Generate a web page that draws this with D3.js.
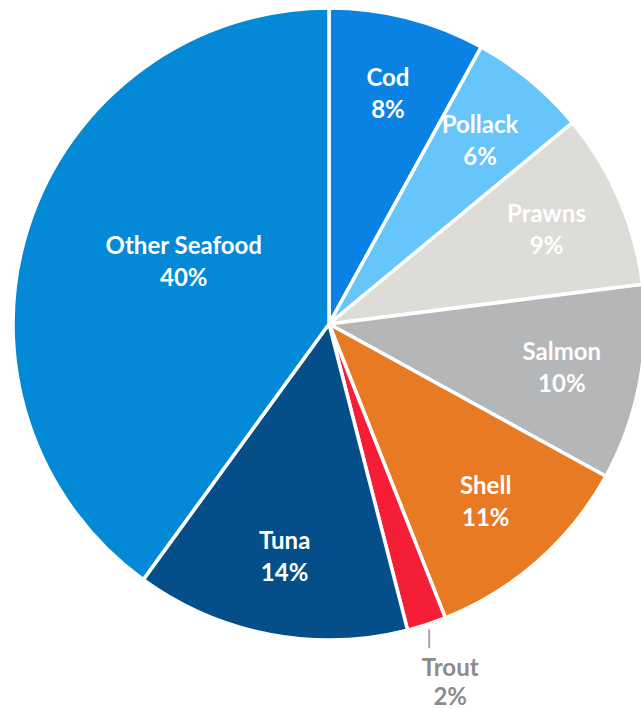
<!DOCTYPE html>
<html>
<head>
<meta charset="utf-8">
<script src="https://cdn.jsdelivr.net/npm/d3@7"></script>
<style>
  html, body { margin: 0; padding: 0; background: #ffffff; }
  svg { display: block; }
  text { font-family: Lato, "Open Sans", "DejaVu Sans", sans-serif; font-weight: 700; }
</style>
</head>
<body>
<svg id="chart" width="641" height="709"></svg>
<script>
// Share of seafood by species (percent)
const categories = ["Cod", "Pollack", "Prawns", "Salmon", "Shell", "Trout", "Tuna", "Other Seafood"];
const shares = [8, 6, 9, 10, 11, 2, 14, 40];
const colors = ["#0A82E4", "#66C5FB", "#DDDCD8", "#B5B6B8", "#E77A23", "#F41F36", "#044F89", "#0489D6"];
// Slices whose label sits outside the pie with a leader line
const outsideLabels = ["Trout"];

const width = 641, height = 709;
const cx = 329, cy = 324, radius = 316;
const fontSize = 24;

const svg = d3.select("#chart");
const g = svg.append("g").attr("transform", `translate(${cx},${cy})`);

const data = categories.map((c, i) => ({ name: c, value: shares[i], color: colors[i] }));

const pie = d3.pie().value(d => d.value).sort(null);
const arcs = pie(data);

const arc = d3.arc().innerRadius(0).outerRadius(radius);

g.selectAll("path.slice")
  .data(arcs)
  .enter().append("path")
  .attr("class", "slice")
  .attr("d", arc)
  .attr("fill", d => d.data.color)
  .attr("stroke", "#ffffff")
  .attr("stroke-width", 3.5)
  .attr("stroke-linejoin", "round");

const maxVal = d3.max(shares);
const labelArcSmall = d3.arc().innerRadius(radius * 0.75).outerRadius(radius * 0.75);
const labelArcLarge = d3.arc().innerRadius(radius * 0.5).outerRadius(radius * 0.5);

// Labels inside the slices
const inside = arcs.filter(d => !outsideLabels.includes(d.data.name));
const lbl = g.selectAll("g.lbl")
  .data(inside)
  .enter().append("g")
  .attr("class", "lbl")
  .attr("transform", d => {
    let c;
    if (d.data.value === maxVal) {
      // the largest slice keeps its label a little above the mid-angle
      const a = (d.startAngle + d.endAngle) / 2 + 0.09;
      c = labelArcLarge.centroid({ startAngle: a, endAngle: a });
    } else {
      c = labelArcSmall.centroid(d);
    }
    return `translate(${c[0]},${c[1]})`;
  });

lbl.append("text")
  .attr("text-anchor", "middle")
  .attr("y", -8)
  .attr("font-size", fontSize)
  .attr("fill", "#ffffff")
  .text(d => d.data.name);
lbl.append("text")
  .attr("text-anchor", "middle")
  .attr("y", 24)
  .attr("font-size", fontSize)
  .attr("fill", "#ffffff")
  .text(d => d.data.value + "%");

// Outside labels with a short vertical leader line
const outside = arcs.filter(d => outsideLabels.includes(d.data.name));
const outArcStart = d3.arc().innerRadius(radius + 5).outerRadius(radius + 5);
outside.forEach(d => {
  const p = outArcStart.centroid(d);
  const x0 = p[0] + 1, y0 = p[1];
  const y1 = y0 + 19;
  g.append("line")
    .attr("x1", x0).attr("y1", y0)
    .attr("x2", x0).attr("y2", y1)
    .attr("stroke", "#A6A6A6")
    .attr("stroke-width", 2);
  const tx = x0 + 21;
  g.append("text")
    .attr("x", tx).attr("y", y1 + 28)
    .attr("text-anchor", "middle")
    .attr("font-size", fontSize)
    .attr("fill", "#8C8C8C")
    .text(d.data.name);
  g.append("text")
    .attr("x", tx).attr("y", y1 + 57)
    .attr("text-anchor", "middle")
    .attr("font-size", fontSize)
    .attr("fill", "#8C8C8C")
    .text(d.data.value + "%");
});
</script>
</body>
</html>
